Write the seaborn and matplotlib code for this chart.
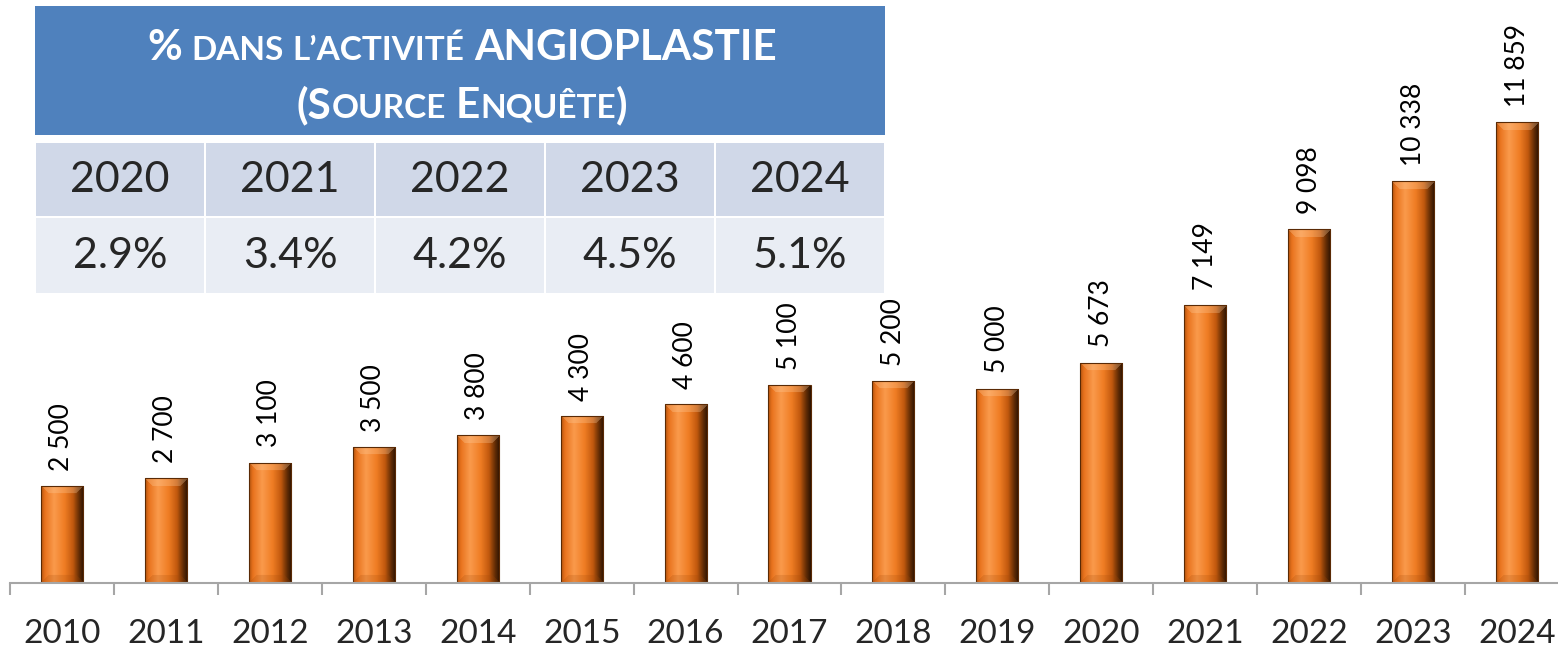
import numpy as np
import pandas as pd
import seaborn as sns
import matplotlib.pyplot as plt
from matplotlib.colors import LinearSegmentedColormap, to_rgb
from matplotlib.patches import Rectangle

# data
years = ["2010", "2011", "2012", "2013", "2014", "2015", "2016", "2017",
         "2018", "2019", "2020", "2021", "2022", "2023", "2024"]
values = [2500, 2700, 3100, 3500, 3800, 4300, 4600, 5100,
          5200, 5000, 5673, 7149, 9098, 10338, 11859]
tab_years = ["2020", "2021", "2022", "2023", "2024"]
tab_pct = ["2.9%", "3.4%", "4.2%", "4.5%", "5.1%"]

df = pd.DataFrame({"year": years, "n": values})

sns.set_theme(style="white")
plt.rcParams["font.family"] = ["Lato", "DejaVu Sans"]

W, H = 1558, 647
fig = plt.figure(figsize=(W / 100, H / 100), dpi=100)
ax = fig.add_axes([10 / W, 64 / H, 1559 / W, 583 / H])

sns.barplot(data=df, x="year", y="n", color="#EE7B22", width=0.405,
            edgecolor="#5a2a05", linewidth=0.8, ax=ax)
ax.set_xlim(-0.5, 14.5)
ax.set_ylim(0, 15000)

# shaded "bevel" look on each bar
cmap = LinearSegmentedColormap.from_list("bar", [
    (0.0, "#B9560F"), (0.08, "#E8731D"), (0.3, "#FA9A4C"),
    (0.55, "#EF7D24"), (0.75, "#C2590E"), (0.88, "#6E3206"), (1.0, "#2E1402")])
px_x = 1559 / 15.0
px_y = 583 / 15000.0
for p in list(ax.patches):
    x0, w, h = p.get_x(), p.get_width(), p.get_height()
    cols = max(int(round(w * px_x)), 2)
    rows = max(int(round(h * px_y)), 2)
    t = np.linspace(0, 1, cols)
    img = np.repeat(cmap(t)[None, :, :3], rows, axis=0)
    b = 8
    for r in range(min(b, rows)):
        lo, hi = r, cols - r
        img[r, lo:hi] = img[r, lo:hi] * 0.7 + 0.3 * np.array(to_rgb("#FFD0A0"))
        rb = rows - 1 - r
        img[rb, lo:hi] = img[rb, lo:hi] * 0.8 + 0.2 * np.array(to_rgb("#A04808"))
    im = ax.imshow(img, extent=[x0, x0 + w, 0, h], aspect="auto",
                   origin="upper", zorder=p.get_zorder() + 0.1, interpolation="bilinear")
    im.set_clip_path(p)
    p.set_facecolor("none")
    p.set_zorder(p.get_zorder() + 0.2)
ax.set_xlim(-0.5, 14.5)
ax.set_ylim(0, 15000)

for i, v in enumerate(values):
    ax.annotate(f"{v:,}".replace(",", " "), (i, v), xytext=(0, 11),
                textcoords="offset points", rotation=90, ha="center",
                va="bottom", fontsize=19, color="black")

ax.set_xticks(range(len(years)))
ax.set_xticklabels(years, fontsize=24)
ax.set_xticks(np.arange(-0.5, 15, 1), minor=True)
ax.tick_params(axis="x", which="major", length=0, pad=26, bottom=True)
ax.tick_params(axis="x", which="minor", length=8.6, width=1.5,
               color="#A6A6A6", direction="out", bottom=True)
ax.set_yticks([])
ax.set_xlabel("")
ax.set_ylabel("")
for s in ["left", "top", "right"]:
    ax.spines[s].set_visible(False)
ax.spines["bottom"].set_color("#A6A6A6")
ax.spines["bottom"].set_linewidth(1.5)

# table overlay in pixel coordinates
ov = fig.add_axes([0, 0, 1, 1])
ov.set_xlim(0, W)
ov.set_ylim(H, 0)
ov.axis("off")
ov.patch.set_alpha(0)

ov.add_patch(Rectangle((35, 6), 850, 129, fc="#4F81BD", ec="none"))
edges = [35, 205, 375, 545, 715, 885]
for j in range(5):
    x0, x1 = edges[j], edges[j + 1]
    ov.add_patch(Rectangle((x0 + 1, 143), x1 - x0 - 2, 73, fc="#D0D8E8", ec="none"))
    ov.add_patch(Rectangle((x0 + 1, 218), x1 - x0 - 2, 75, fc="#E9EDF4", ec="none"))
    ov.text((x0 + x1) / 2, 180, tab_years[j], ha="center", va="center", fontsize=31)
    ov.text((x0 + x1) / 2, 256, tab_pct[j], ha="center", va="center", fontsize=31)

renderer = fig.canvas.get_renderer()


def small_caps(pieces, xc, y):
    # pieces: (text, fontsize, gap after in px)
    items = []
    for s, size, gap in pieces:
        t = ov.text(0, y, s, fontsize=size, fontweight="bold", color="white",
                    ha="left", va="baseline")
        items.append((t, t.get_window_extent(renderer).width, gap))
    total = sum(w + g for _, w, g in items) - items[-1][2]
    x = xc - total / 2
    for t, w, g in items:
        t.set_x(x)
        x += w + g


L, S = 30.5, 24
small_caps([("%", L, 10), ("DANS", S, 8), ("L’ACTIVITÉ", S, 10),
            ("ANGIOPLASTIE", L, 0)], 462, 60)
small_caps([("(S", L, 0), ("OURCE", S, 10), ("E", L, 0), ("NQUÊTE", S, 0),
            (")", L, 0)], 462, 118)

fig.savefig("out.png", dpi=100)
